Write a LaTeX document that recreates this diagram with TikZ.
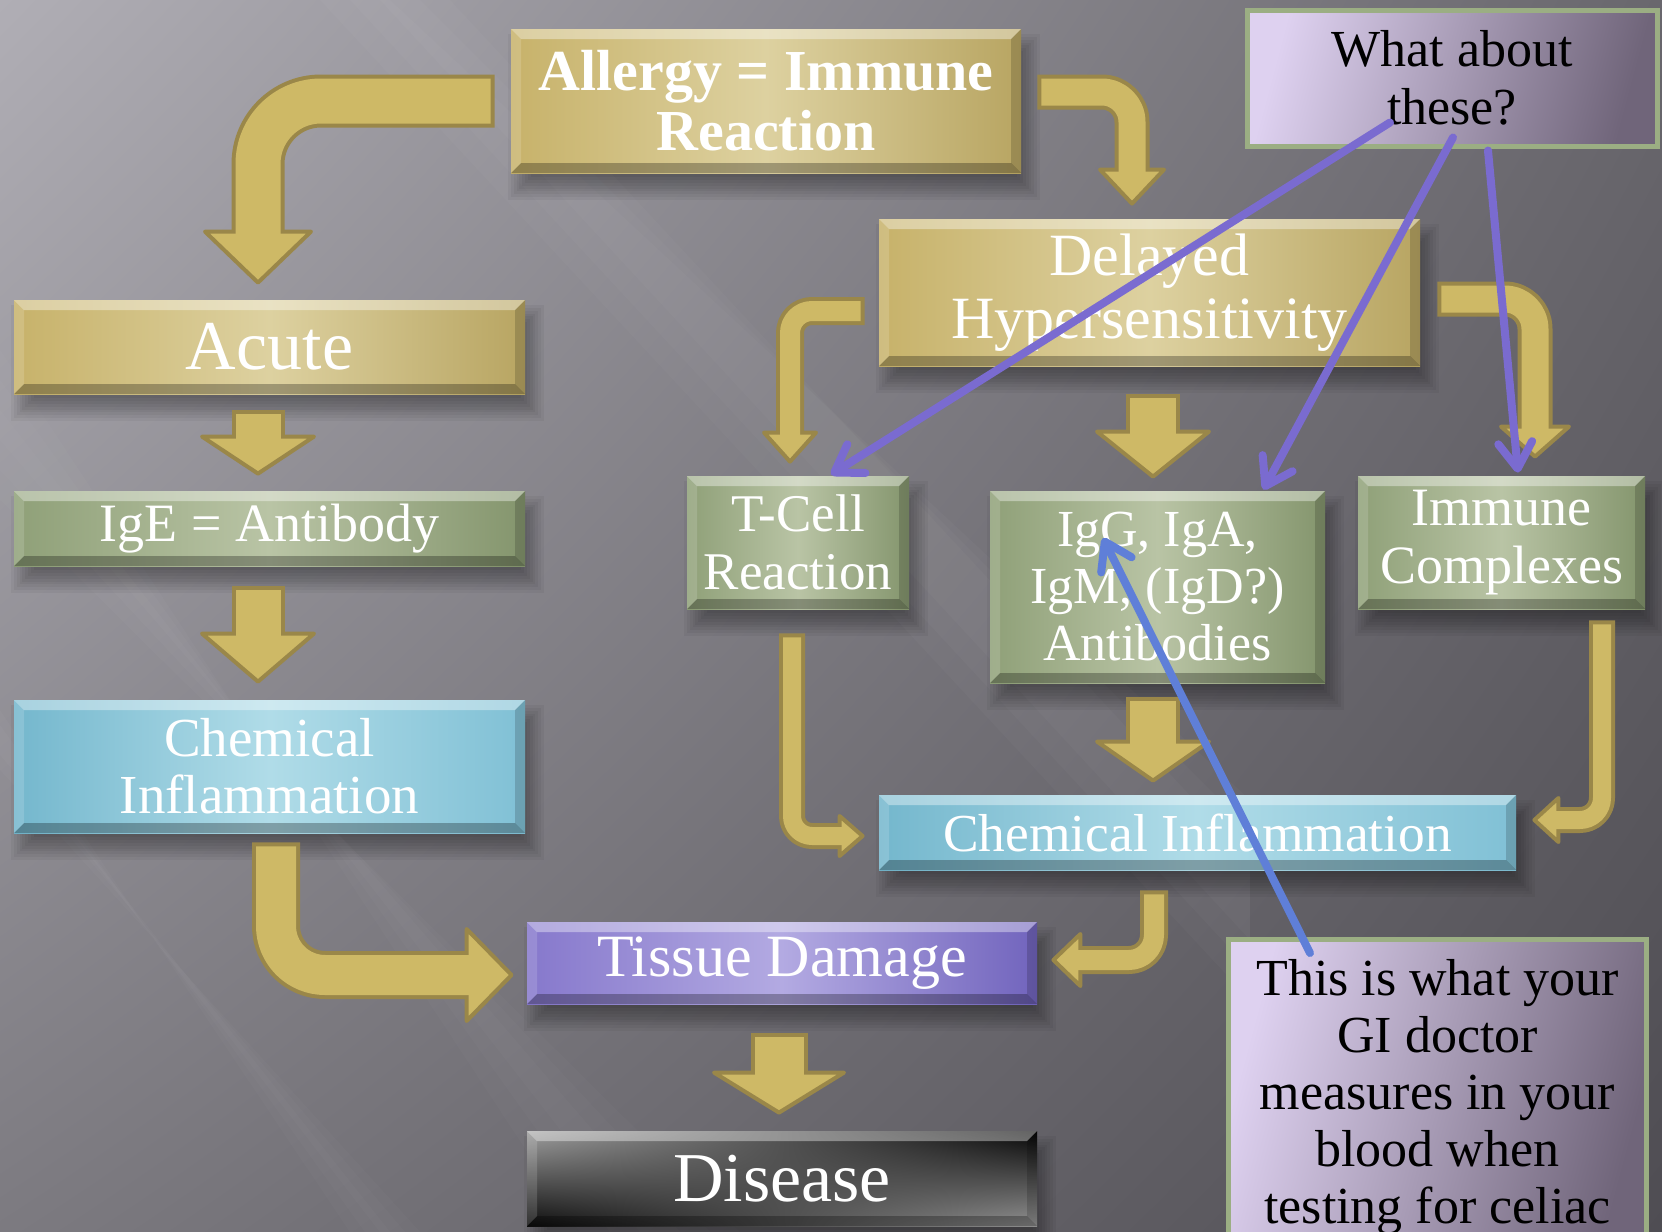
\documentclass[tikz,border=0pt]{standalone}
\usepackage{fontspec}
\setmainfont{Liberation Serif}
\usetikzlibrary{calc,arrows.meta,shadings}

\definecolor{bgUL}{HTML}{B0AEB5}
\definecolor{bgUR}{HTML}{69676D}
\definecolor{bgLL}{HTML}{7C7A80}
\definecolor{bgLR}{HTML}{4F4D53}
\definecolor{goldL}{HTML}{C7B26A}
\definecolor{goldM}{HTML}{DDD1A0}
\definecolor{goldR}{HTML}{B8A562}
\definecolor{greenL}{HTML}{8FA078}
\definecolor{greenM}{HTML}{B9C4A5}
\definecolor{greenR}{HTML}{84956D}
\definecolor{blueL}{HTML}{74B7CD}
\definecolor{blueM}{HTML}{B0DCE8}
\definecolor{blueR}{HTML}{80C0D5}
\definecolor{violL}{HTML}{8678CC}
\definecolor{violM}{HTML}{B3AAE2}
\definecolor{violR}{HTML}{7164BD}
\definecolor{lilacL}{HTML}{DED1F0}
\definecolor{lilacR}{HTML}{70657A}
\definecolor{noteedge}{HTML}{9BAE83}
\definecolor{arrowfill}{HTML}{CEB966}
\definecolor{arrowline}{HTML}{9A8749}
\definecolor{pointer}{HTML}{7A6BD0}
\definecolor{pointerblue}{HTML}{5F7FD8}

\pgfdeclarelayer{backdrop}
\pgfdeclarelayer{shadowlayer}
\pgfsetlayers{backdrop,shadowlayer,main}

\tikzset{
  bevel/.style={path picture={
    \fill[white,fill opacity=.38]
      (path picture bounding box.north west) -- (path picture bounding box.north east)
      -- ([shift={(-5pt,-5pt)}]path picture bounding box.north east)
      -- ([shift={(5pt,-5pt)}]path picture bounding box.north west) -- cycle;
    \fill[black,fill opacity=.28]
      (path picture bounding box.south west) -- (path picture bounding box.south east)
      -- ([shift={(-5pt,5pt)}]path picture bounding box.south east)
      -- ([shift={(5pt,5pt)}]path picture bounding box.south west) -- cycle;
    \fill[white,fill opacity=.15]
      (path picture bounding box.north west) -- ([shift={(5pt,-5pt)}]path picture bounding box.north west)
      -- ([shift={(5pt,5pt)}]path picture bounding box.south west) -- (path picture bounding box.south west) -- cycle;
    \fill[black,fill opacity=.16]
      (path picture bounding box.north east) -- ([shift={(-5pt,-5pt)}]path picture bounding box.north east)
      -- ([shift={(-5pt,5pt)}]path picture bounding box.south east) -- (path picture bounding box.south east) -- cycle;
  }},
  boxbase/.style={rectangle, inner sep=0pt, align=center, text=white, bevel},
  % middle colour must come after left/right, which reset it
  goldbox/.style={boxbase, left color=goldL, right color=goldR, middle color=goldM},
  greenbox/.style={boxbase, left color=greenL, right color=greenR, middle color=greenM},
  bluebox/.style={boxbase, left color=blueL, right color=blueR, middle color=blueM},
  violetbox/.style={boxbase, left color=violL, right color=violR, middle color=violM},
  darkbox/.style={boxbase, upper left=gray!75, lower left=black!95, upper right=black!98, lower right=gray!85},
  notebox/.style={rectangle, inner sep=0pt, align=center, text=black,
    draw=noteedge, line width=2.5pt, left color=lilacL, right color=lilacR, shading angle=75},
  arrowedge/.style={draw=arrowline, line cap=butt, line join=round},
  arrowbody/.style={draw=arrowfill, line cap=butt, line join=round},
  arrowhead/.style={fill=arrowfill, draw=arrowline, line width=2pt, line join=round},
  callout/.style={draw=pointer, line width=4pt, line cap=round,
    -{Straight Barb[length=13pt,width=17pt,round]}},
}

% block arrow: #1 corner radius, #2 shaft path, #3 head base, #4 tip,
% #5 shaft width, #6 head half width
\newcommand\goldarrow[6]{%
  \draw[arrowedge, rounded corners=#1, line width=#5+4pt, shorten <=-2pt] #2;
  \filldraw[arrowhead] ($(#3)!#6!90:(#4)$) -- (#4) -- ($(#3)!#6!-90:(#4)$) -- cycle;
  \draw[arrowbody, rounded corners=#1, line width=#5, shorten >=-3pt] #2;
}

\begin{document}
\begin{tikzpicture}[x=0.5pt,y=-0.5pt]
\useasboundingbox (0,0) rectangle (1662,1232);

% backdrop with soft diagonal light rays
\begin{pgfonlayer}{backdrop}
\shade[upper left=bgUL, upper right=bgUR, lower left=bgLL, lower right=bgLR]
  (0,0) rectangle (1662,1232);
\foreach \d in {0,30,60}{
  \fill[white, fill opacity=.025] (320+\d,0) -- (450-\d,0) -- (1250,860-\d) -- (1250,1000-\d) -- cycle;
  \fill[white, fill opacity=.02] (0,350+\d) -- (0,500-\d) -- (740-\d,1232) -- (580+\d,1232) -- cycle;
  \fill[white, fill opacity=.02] (0,710+\d/2) -- (0,770-\d/2) -- (420-\d/2,1232) -- (350+\d/2,1232) -- cycle;
}
\end{pgfonlayer}

% boxes
\node[goldbox, minimum width=255pt, minimum height=72pt,
      font=\fontsize{29pt}{30pt}\selectfont\bfseries] (allergy) at (766,101)
      {Allergy = Immune\\Reaction};
\node[goldbox, minimum width=255.5pt, minimum height=47pt,
      font=\fontsize{35pt}{36pt}\selectfont] (acute) at (269.5,347) {Acute};
\node[greenbox, minimum width=255.5pt, minimum height=37.5pt,
      font=\fontsize{27pt}{30pt}\selectfont] (ige) at (269.5,528.5) {IgE = Antibody};
\node[bluebox, minimum width=255.5pt, minimum height=66.5pt,
      font=\fontsize{27.5pt}{28.5pt}\selectfont] (chemL) at (269.5,766.5)
      {Chemical\\Inflammation};
\node[goldbox, minimum width=270.5pt, minimum height=73.5pt,
      font=\fontsize{30pt}{31.5pt}\selectfont] (delayed) at (1149.5,292.5)
      {Delayed\\Hypersensitivity};
\node[greenbox, minimum width=111pt, minimum height=66.5pt,
      font=\fontsize{26.5pt}{29pt}\selectfont] (tcell) at (798,542.5)
      {T-Cell\\Reaction};
\node[greenbox, minimum width=167.5pt, minimum height=96pt,
      font=\fontsize{26pt}{28.5pt}\selectfont] (igg) at (1157.5,587)
      {IgG, IgA,\\IgM, (IgD?)\\Antibodies};
\node[greenbox, minimum width=143.5pt, minimum height=66.5pt,
      font=\fontsize{27pt}{29pt}\selectfont] (immune) at (1501.5,542.5)
      {\raisebox{-2pt}{Immune}\\\raisebox{-2pt}{Complexes}};
\node[bluebox, minimum width=318.5pt, minimum height=37.5pt,
      font=\fontsize{26.7pt}{30pt}\selectfont] (chemR) at (1197.5,832.5)
      {Chemical Inflammation};
\node[violetbox, minimum width=255pt, minimum height=41pt,
      font=\fontsize{30pt}{33pt}\selectfont] (tissue) at (782,963)
      {\raisebox{-3pt}{Tissue Damage}};
\node[darkbox, minimum width=255pt, minimum height=47.5pt,
      font=\fontsize{35pt}{37pt}\selectfont] (disease) at (782,1178.5) {Disease};

\node[notebox, minimum width=205pt, minimum height=68pt,
      font=\fontsize{26pt}{29pt}\selectfont] (whatabout) at (1452,78)
      {What about\\these?};
\node[notebox, anchor=north, minimum width=209pt, inner ysep=10pt,
      font=\fontsize{26pt}{28.5pt}\selectfont] (thisis) at (1437.5,937)
      {This is what your\\GI doctor\\measures in your\\blood when\\testing for celiac};

% soft drop shadows under the boxes
\begin{pgfonlayer}{shadowlayer}
\foreach \b in {allergy,acute,ige,chemL,delayed,tcell,igg,immune,chemR,tissue,disease}{
  \foreach \k in {0,1,...,8}{
    \fill[black, fill opacity=.045]
      ([shift={(4pt+6pt-\k*1.4pt,-8pt-6pt+\k*1.4pt)}]\b.north west)
      rectangle ([shift={(4pt-6pt+\k*1.4pt,-8pt+6pt-\k*1.4pt)}]\b.south east);
  }
}
\end{pgfonlayer}

% block arrows between the boxes
\coordinate (aS) at ($(allergy.west)+(-20,0)$);
\coordinate (aT) at ($(acute.north)+(-11.5,-17)$);
\coordinate (aB) at ($(aT)+(0,-51)$);
\goldarrow{31.5pt}{(aS) -- (aS -| aT) -- (aB)}{aB}{aT}{22.5pt}{26.5pt}

\coordinate (bS) at ($(allergy.east)+(20,-9)$);
\coordinate (bT) at ($(delayed.north)+(-17.5,-15)$);
\coordinate (bB) at ($(bT)+(0,-34)$);
\goldarrow{15pt}{(bS) -- (bS -| bT) -- (bB)}{bB}{bT}{13.5pt}{16pt}

\coordinate (cS) at ($(acute.south)+(-11.5,20)$);
\coordinate (cT) at ($(ige.north)+(-11.5,-17)$);
\coordinate (cB) at ($(cT)+(0,-37)$);
\goldarrow{0pt}{(cS) -- (cB)}{cB}{cT}{22.5pt}{28pt}

\coordinate (dS) at ($(ige.south)+(-11.5,24)$);
\coordinate (dT) at ($(chemL.north)+(-11.5,-18)$);
\coordinate (dB) at ($(dT)+(0,-48)$);
\goldarrow{0pt}{(dS) -- (dB)}{dB}{dT}{22.5pt}{28pt}

\coordinate (eS) at ($(chemL.south)+(6.5,13)$);
\coordinate (eT) at ($(tissue.west)+(-15,12)$);
\coordinate (eB) at ($(eT)+(-45,0)$);
\goldarrow{24.5pt}{(eS) -- (eS |- eT) -- (eB)}{eB}{eT}{20pt}{23pt}

\coordinate (fS) at ($(tissue.south)+(-3,33)$);
\coordinate (fT) at ($(disease.north)+(-3,-18)$);
\coordinate (fB) at ($(fT)+(0,-40)$);
\goldarrow{0pt}{(fS) -- (fB)}{fB}{fT}{24.5pt}{32.5pt}

\coordinate (gS) at ($(delayed.west)+(-18,18.5)$);
\coordinate (gT) at ($(tcell.north)+(-8,-14)$);
\coordinate (gB) at ($(gT)+(0,-29)$);
\goldarrow{11pt}{(gS) -- (gS -| gT) -- (gB)}{gB}{gT}{10pt}{13pt}

\coordinate (hS) at ($(delayed.south)+(3.5,32)$);
\coordinate (hT) at ($(igg.north)+(-4.5,-14)$);
\coordinate (hB) at ($(hT)+(0,-45)$);
\goldarrow{0pt}{(hS) -- (hB)}{hB}{hT}{23pt}{28pt}

\coordinate (iS) at ($(delayed.east)+(21,6.5)$);
\coordinate (iT) at ($(immune.north)+(33.5,-19)$);
\coordinate (iB) at ($(iT)+(0,-30)$);
\goldarrow{15pt}{(iS) -- (iS -| iT) -- (iB)}{iB}{iT}{13.5pt}{17pt}

\coordinate (jS) at ($(tcell.south)+(-6,28)$);
\coordinate (jT) at ($(chemR.west)+(-16,3.5)$);
\coordinate (jB) at ($(jT)+(-23,0)$);
\goldarrow{10pt}{(jS) -- (jS |- jT) -- (jB)}{jB}{jT}{9pt}{10pt}

\coordinate (kS) at ($(igg.south)+(-4.5,18)$);
\coordinate (kT) at ($(chemR.north)+(-44.5,-14)$);
\coordinate (kB) at ($(kT)+(0,-39)$);
\goldarrow{0pt}{(kS) -- (kB)}{kB}{kT}{23pt}{28pt}

\coordinate (lS) at ($(immune.south)+(100.5,15)$);
\coordinate (lT) at ($(chemR.east)+(18,-12.5)$);
\coordinate (lB) at ($(lT)+(24,0)$);
\goldarrow{11pt}{(lS) -- (lS |- lT) -- (lB)}{lB}{lT}{9pt}{11pt}

\coordinate (mS) at ($(chemR.south)+(-43.5,24)$);
\coordinate (mT) at ($(tissue.east)+(16,-3)$);
\coordinate (mB) at ($(mT)+(27,0)$);
\goldarrow{12.5pt}{(mS) -- (mS |- mT) -- (mB)}{mB}{mT}{10pt}{13pt}

% pointers from the notes
\coordinate (p1) at ($(whatabout.south)+(-62,-26)$);
\coordinate (p2) at ($(whatabout.south)+(1,-11)$);
\coordinate (p3) at ($(whatabout.south)+(36,2)$);
\coordinate (p4) at ($(thisis.north)+(-127.5,16)$);
\draw[callout] (p1) -- ($(tcell.north)+(33,-1)$);
\draw[callout] (p2) -- ($(igg.north east)+(-62,-1)$);
\draw[callout] (p3) -- ($(immune.north)+(16.5,-3)$);
\draw[callout, draw=pointerblue] (p4) -- ($(igg.center)+(-54.5,-49)$);
\end{tikzpicture}
\end{document}
